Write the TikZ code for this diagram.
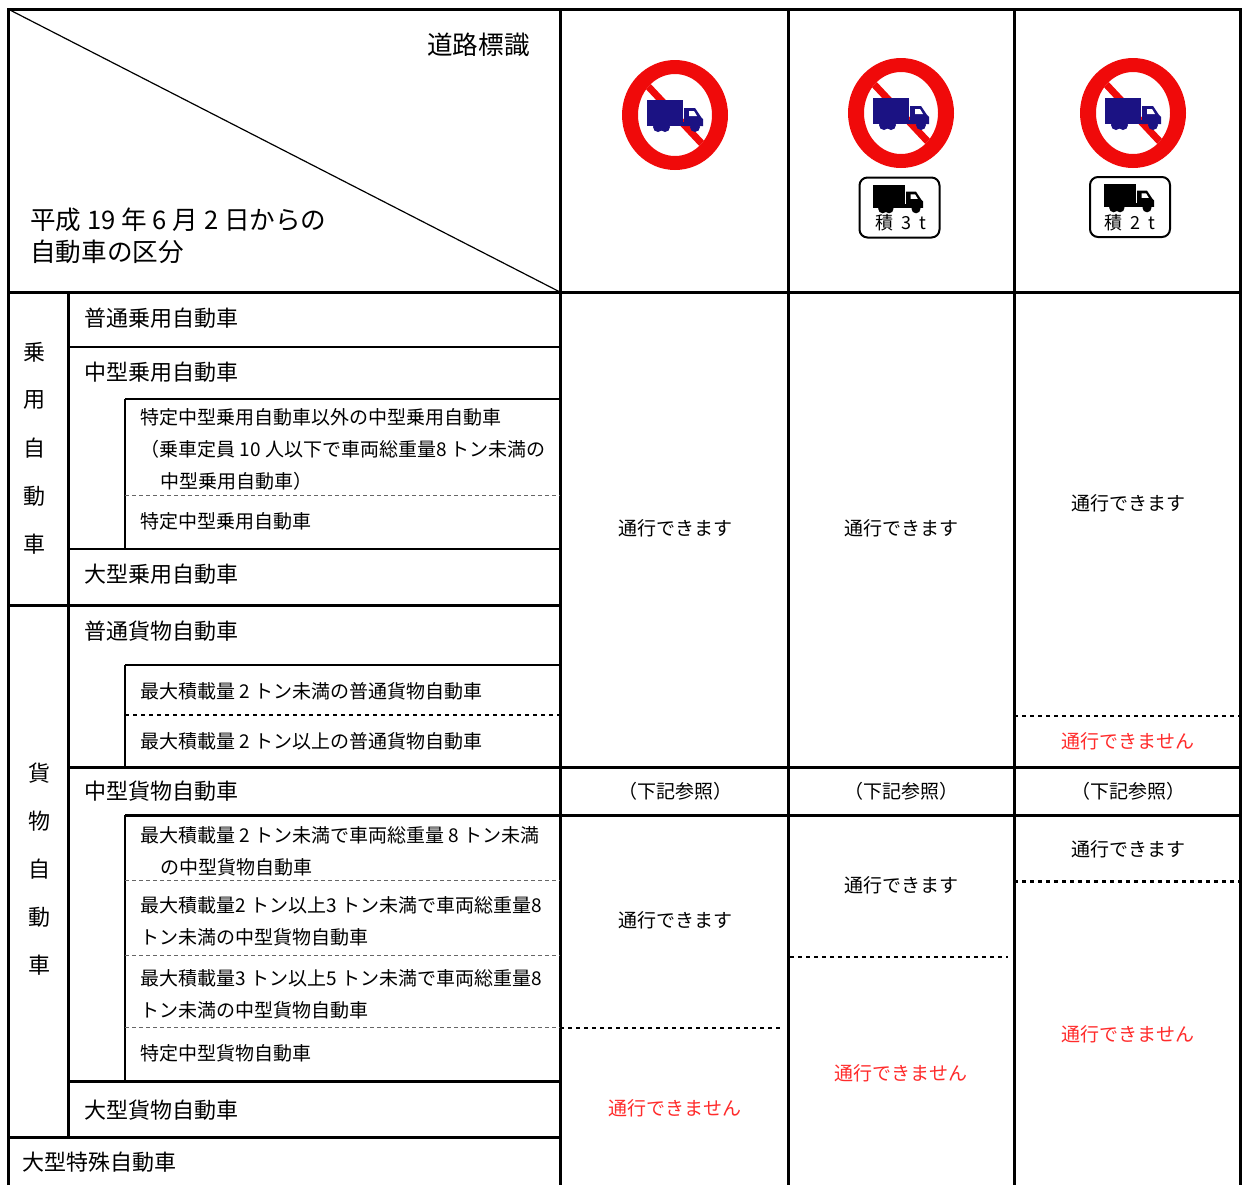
\documentclass[tikz,border=0pt]{standalone}
\usepackage{fontspec}
\setmainfont{Noto Sans CJK JP}
\usepackage{tikz}
\definecolor{signred}{HTML}{F00A0A}
\definecolor{signblue}{HTML}{1B1283}
\definecolor{nogored}{HTML}{FF2B2B}

\begin{document}
\begin{tikzpicture}[x=0.5pt,y=-0.5pt]
\tikzset{rowtext/.style = {anchor=west,inner sep=0pt,font=\fontsize{11pt}{13pt}\selectfont}}
\tikzset{subtext/.style = {anchor=west,inner sep=0pt,font=\fontsize{9.5pt}{12pt}\selectfont}}
\tikzset{headtext/.style = {inner sep=0pt,font=\fontsize{12.8pt}{15pt}\selectfont}}
\tikzset{celltext/.style = {inner sep=0pt,font=\fontsize{9.5pt}{11pt}\selectfont}}
\tikzset{nogo/.style = {celltext,text=nogored}}
\tikzset{vchar/.style = {inner sep=0pt,font=\fontsize{11pt}{13pt}\selectfont}}
\tikzset{major/.style = {line width=1.5pt}}
\tikzset{minor/.style = {line width=1pt}}
\tikzset{subdash/.style = {line width=0.5pt,black!60,dash pattern=on 2pt off 1.5pt}}
\tikzset{celldash/.style = {line width=1pt,dash pattern=on 2pt off 2pt}}
\tikzset{plate/.style = {draw,line width=1pt,rounded corners=4pt,minimum width=40pt,minimum height=30pt}}
\tikzset{lorry/.pic = {
  \fill[#1] (-28,-15) rectangle (8,7);
  \fill[#1] (9,-7) -- (20,-7) -- (26,2) -- (28,4) -- (28,11) -- (9,11) -- cycle;
  \fill[#1] (-28,7) rectangle (28,11);
  \fill[#1] (-17,12) circle [radius=2.5pt] (-10,12) circle [radius=2.5pt] (20,12) circle [radius=2.5pt];
  \fill[white] (14,-4) -- (19,-4) -- (22,1) -- (14,1) -- cycle;
}}
\tikzset{nosign/.pic = {
  \fill[signred,even odd rule] (0,0) ellipse [x radius=26.5pt,y radius=27.5pt]
    (0,0) ellipse [x radius=18.5pt,y radius=20.5pt];
  \begin{scope}
    \clip (0,0) ellipse [x radius=18.5pt,y radius=20.5pt];
    \draw[signred,line width=3.5pt] (-30,-32) -- (30,32);
  \end{scope}
  \pic at (0,0) {lorry=signblue};
}}
\useasboundingbox (0,0) rectangle (1242,1185);

% frame
\draw[major] (8,1185) -- (8,9) -- (1240,9) -- (1240,1185);
\draw[major] (560,9) -- (560,1185);
\draw[major] (788,9) -- (788,1185);
\draw[major] (1014,9) -- (1014,1185);
\draw[line width=0.6pt] (8,9) -- (560,292);
\draw[major] (8,292) -- (1240,292);
\draw[major] (68,292) -- (68,1137);
\draw[minor] (125,399) -- (125,549);
\draw[minor] (125,665) -- (125,767);
\draw[minor] (125,815) -- (125,1081);

% rows
\draw[minor] (68,347) -- (560,347);
\draw[minor] (125,399) -- (560,399);
\draw[subdash] (125,495) -- (560,495);
\draw[minor] (68,549) -- (560,549);
\draw[major] (8,605) -- (560,605);
\draw[minor] (125,665) -- (560,665);
\draw[celldash] (125,715) -- (560,715);
\draw[major] (68,767) -- (1240,767);
\draw[major] (125,815) -- (1240,815);
\draw[subdash] (125,880) -- (560,880);
\draw[subdash] (125,955) -- (560,955);
\draw[subdash] (125,1027) -- (560,1027);
\draw[major] (68,1081) -- (560,1081);
\draw[major] (8,1137) -- (560,1137);
\draw[celldash] (560,1028) -- (783,1028);
\draw[celldash] (790,957) -- (1008,957);
\draw[celldash] (1014,716) -- (1240,716);
\draw[celldash,line width=1.5pt] (1014,881) -- (1240,881);

% header
\node[headtext,anchor=east] (road) at (530,45) {道路標識};
\node[headtext,anchor=west] (date) at (30,220) {平成 19 年 6 月 2 日からの};
\node[headtext,anchor=west] (kubun) at (30,252) {自動車の区分};

% signs
\pic at (675,115) {nosign};
\pic at (901,113) {nosign};
\pic at (1133,113) {nosign};
\node[plate] (plate3) at (899.5,207.5) {};
\pic[scale=0.9] at (898,198) {lorry=black};
\node[inner sep=0pt,font=\fontsize{9pt}{10pt}\selectfont] (load3) at (901,223) {積\hspace{0.45em}3\hspace{0.45em}t};
\node[plate] (plate2) at (1130,207) {};
\pic[scale=0.9] at (1129,197) {lorry=black};
\node[inner sep=0pt,font=\fontsize{9pt}{10pt}\selectfont] (load2) at (1130,223) {積\hspace{0.45em}2\hspace{0.45em}t};

% vehicle classes
\foreach \c [count=\i from 0] in {乗,用,自,動,車}
  \node[vchar] (p\i) at (35,{352+48*\i}) {\c};
\foreach \c [count=\i from 0] in {貨,物,自,動,車}
  \node[vchar] (g\i) at (39,{773+48*\i}) {\c};
\node[rowtext] (futsu) at (84,318) {普通乗用自動車};
\node[rowtext] (chugata) at (84,372) {中型乗用自動車};
\node[subtext] (igai1) at (140,417) {特定中型乗用自動車以外の中型乗用自動車};
\node[subtext] (igai2) at (140,449) {（乗車定員 10 人以下で車両総重量8 トン未満の};
\node[subtext] (igai3) at (160,481) {中型乗用自動車）};
\node[subtext] (tokutei) at (140,521) {特定中型乗用自動車};
\node[rowtext] (ogata) at (84,574) {大型乗用自動車};
\node[rowtext] (futsuk) at (84,631) {普通貨物自動車};
\node[subtext] (fk1) at (140,691) {最大積載量 2 トン未満の普通貨物自動車};
\node[subtext] (fk2) at (140,741) {最大積載量 2 トン以上の普通貨物自動車};
\node[rowtext] (chugatak) at (84,791) {中型貨物自動車};
\node[subtext] (ck1a) at (140,835) {最大積載量 2 トン未満で車両総重量 8 トン未満};
\node[subtext] (ck1b) at (160,867) {の中型貨物自動車};
\node[subtext] (ck2a) at (140,905) {最大積載量2 トン以上3 トン未満で車両総重量8};
\node[subtext] (ck2b) at (140,937) {トン未満の中型貨物自動車};
\node[subtext] (ck3a) at (140,978) {最大積載量3 トン以上5 トン未満で車両総重量8};
\node[subtext] (ck3b) at (140,1010) {トン未満の中型貨物自動車};
\node[subtext] (ck4) at (140,1053) {特定中型貨物自動車};
\node[rowtext] (ogatak) at (84,1110) {大型貨物自動車};
\node[rowtext] (tokushu) at (22,1162) {大型特殊自動車};

% cells
\node[celltext] (a1) at (675,528) {通行できます};
\node[celltext] (a2) at (675,791) {（下記参照）};
\node[celltext] (a3) at (675,920) {通行できます};
\node[nogo] (a4) at (675,1108) {通行できません};
\node[celltext] (b1) at (901,528) {通行できます};
\node[celltext] (b2) at (901,791) {（下記参照）};
\node[celltext] (b3) at (901,885) {通行できます};
\node[nogo] (b4) at (901,1073) {通行できません};
\node[celltext] (c1) at (1128,503) {通行できます};
\node[nogo] (c2) at (1128,741) {通行できません};
\node[celltext] (c3) at (1128,791) {（下記参照）};
\node[celltext] (c4) at (1128,849) {通行できます};
\node[nogo] (c5) at (1128,1034) {通行できません};
\end{tikzpicture}
\end{document}
